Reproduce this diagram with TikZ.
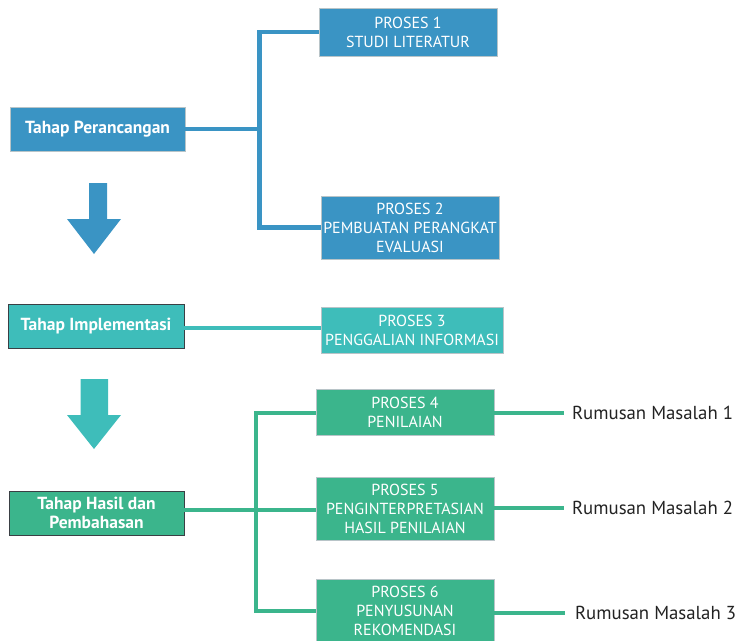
\documentclass[tikz,border=0pt]{standalone}
\usepackage{fontspec}
\setmainfont{PT Sans}
\definecolor{cblue}{HTML}{3A94C4}
\definecolor{cteal}{HTML}{3EBDBA}
\definecolor{cgreen}{HTML}{3BB58C}
\definecolor{cedge}{HTML}{B8C4C8}
\definecolor{cdark}{HTML}{3A3F44}
\definecolor{ctext}{HTML}{222222}
\begin{document}
\begin{tikzpicture}[x=1pt,y=-1pt,
  box/.style={draw=cedge,line width=0.8pt,text=white,align=center,inner sep=0pt,
    font=\fontsize{16}{19}\selectfont},
  stage/.style={box,font=\bfseries\fontsize{17.5}{18.5}\selectfont},
  link/.style={line width=4.5pt}]
\useasboundingbox (0,0) rectangle (744,640);

% stage boxes
\node[stage,fill=cblue,minimum width=175pt,minimum height=44pt] (tp) at (97.5,129) {Tahap Perancangan};
\node[stage,fill=cteal,draw=cdark,minimum width=176pt,minimum height=44pt] (ti) at (96,326) {Tahap Implementasi};
\node[stage,fill=cgreen,draw=cdark,minimum width=175pt,minimum height=44pt] (th) at (96.5,513) {Tahap Hasil dan\\Pembahasan};

% process boxes
\node[box,fill=cblue,minimum width=178pt,minimum height=48pt] (p1) at (408,32) {PROSES 1\\STUDI LITERATUR};
\node[box,fill=cblue,minimum width=178pt,minimum height=63pt] (p2) at (410,227.5) {PROSES 2\\PEMBUATAN PERANGKAT\\EVALUASI};
\node[box,fill=cteal,minimum width=182pt,minimum height=46pt] (p3) at (412,330) {PROSES 3\\PENGGALIAN INFORMASI};
\node[box,fill=cgreen,minimum width=178pt,minimum height=46pt] (p4) at (405,412) {PROSES 4\\PENILAIAN};
\node[box,fill=cgreen,minimum width=178pt,minimum height=63pt] (p5) at (405,508.5) {PROSES 5\\PENGINTERPRETASIAN\\HASIL PENILAIAN};
\node[box,fill=cgreen,minimum width=178pt,minimum height=64pt] (p6) at (405,611) {PROSES 6\\PENYUSUNAN\\REKOMENDASI};

% research questions
\tikzset{rq/.style={anchor=west,text=ctext,inner sep=0pt,font=\fontsize{18.8}{20}\selectfont}}
\node[rq] (r1) at (572,413) {Rumusan Masalah 1};
\node[rq] (r2) at (572,508) {Rumusan Masalah 2};
\node[rq] (r3) at (575,613) {Rumusan Masalah 3};

% connectors
\coordinate (b1) at (259.5,129);
\coordinate (b3) at (256,510);
\draw[link,cblue] (tp.east) -- (b1);
\draw[link,cblue] (p1.west) -| (b1) |- (p2.west);
\draw[link,cteal] (ti.east |- 0,328) -- (p3.west |- 0,328);
\draw[link,cgreen] (th.east |- b3) -- (b3);
\draw[link,cgreen] (p4.west |- 0,413) -| (b3) |- (p6.west |- 0,611);
\draw[link,cgreen] (b3) -- (p5.west |- b3);
\draw[link,cgreen] (p4.east |- r1.west) -- ([xshift=-8pt]r1.west);
\draw[link,cgreen] (p5.east |- r2.west) -- ([xshift=-8pt]r2.west);
\draw[link,cgreen] (p6.east |- r3.west) -- ([xshift=-10pt]r3.west);

% downward arrows between stages
\fill[cblue] (89,183) -- (107,183) -- (107,219) -- (121,219) -- (94,254) -- (67,219) -- (89,219) -- cycle;
\fill[cteal] (80.5,379) -- (108,379) -- (108,415) -- (121,415) -- (94,449) -- (67,415) -- (80.5,415) -- cycle;
\end{tikzpicture}
\end{document}
